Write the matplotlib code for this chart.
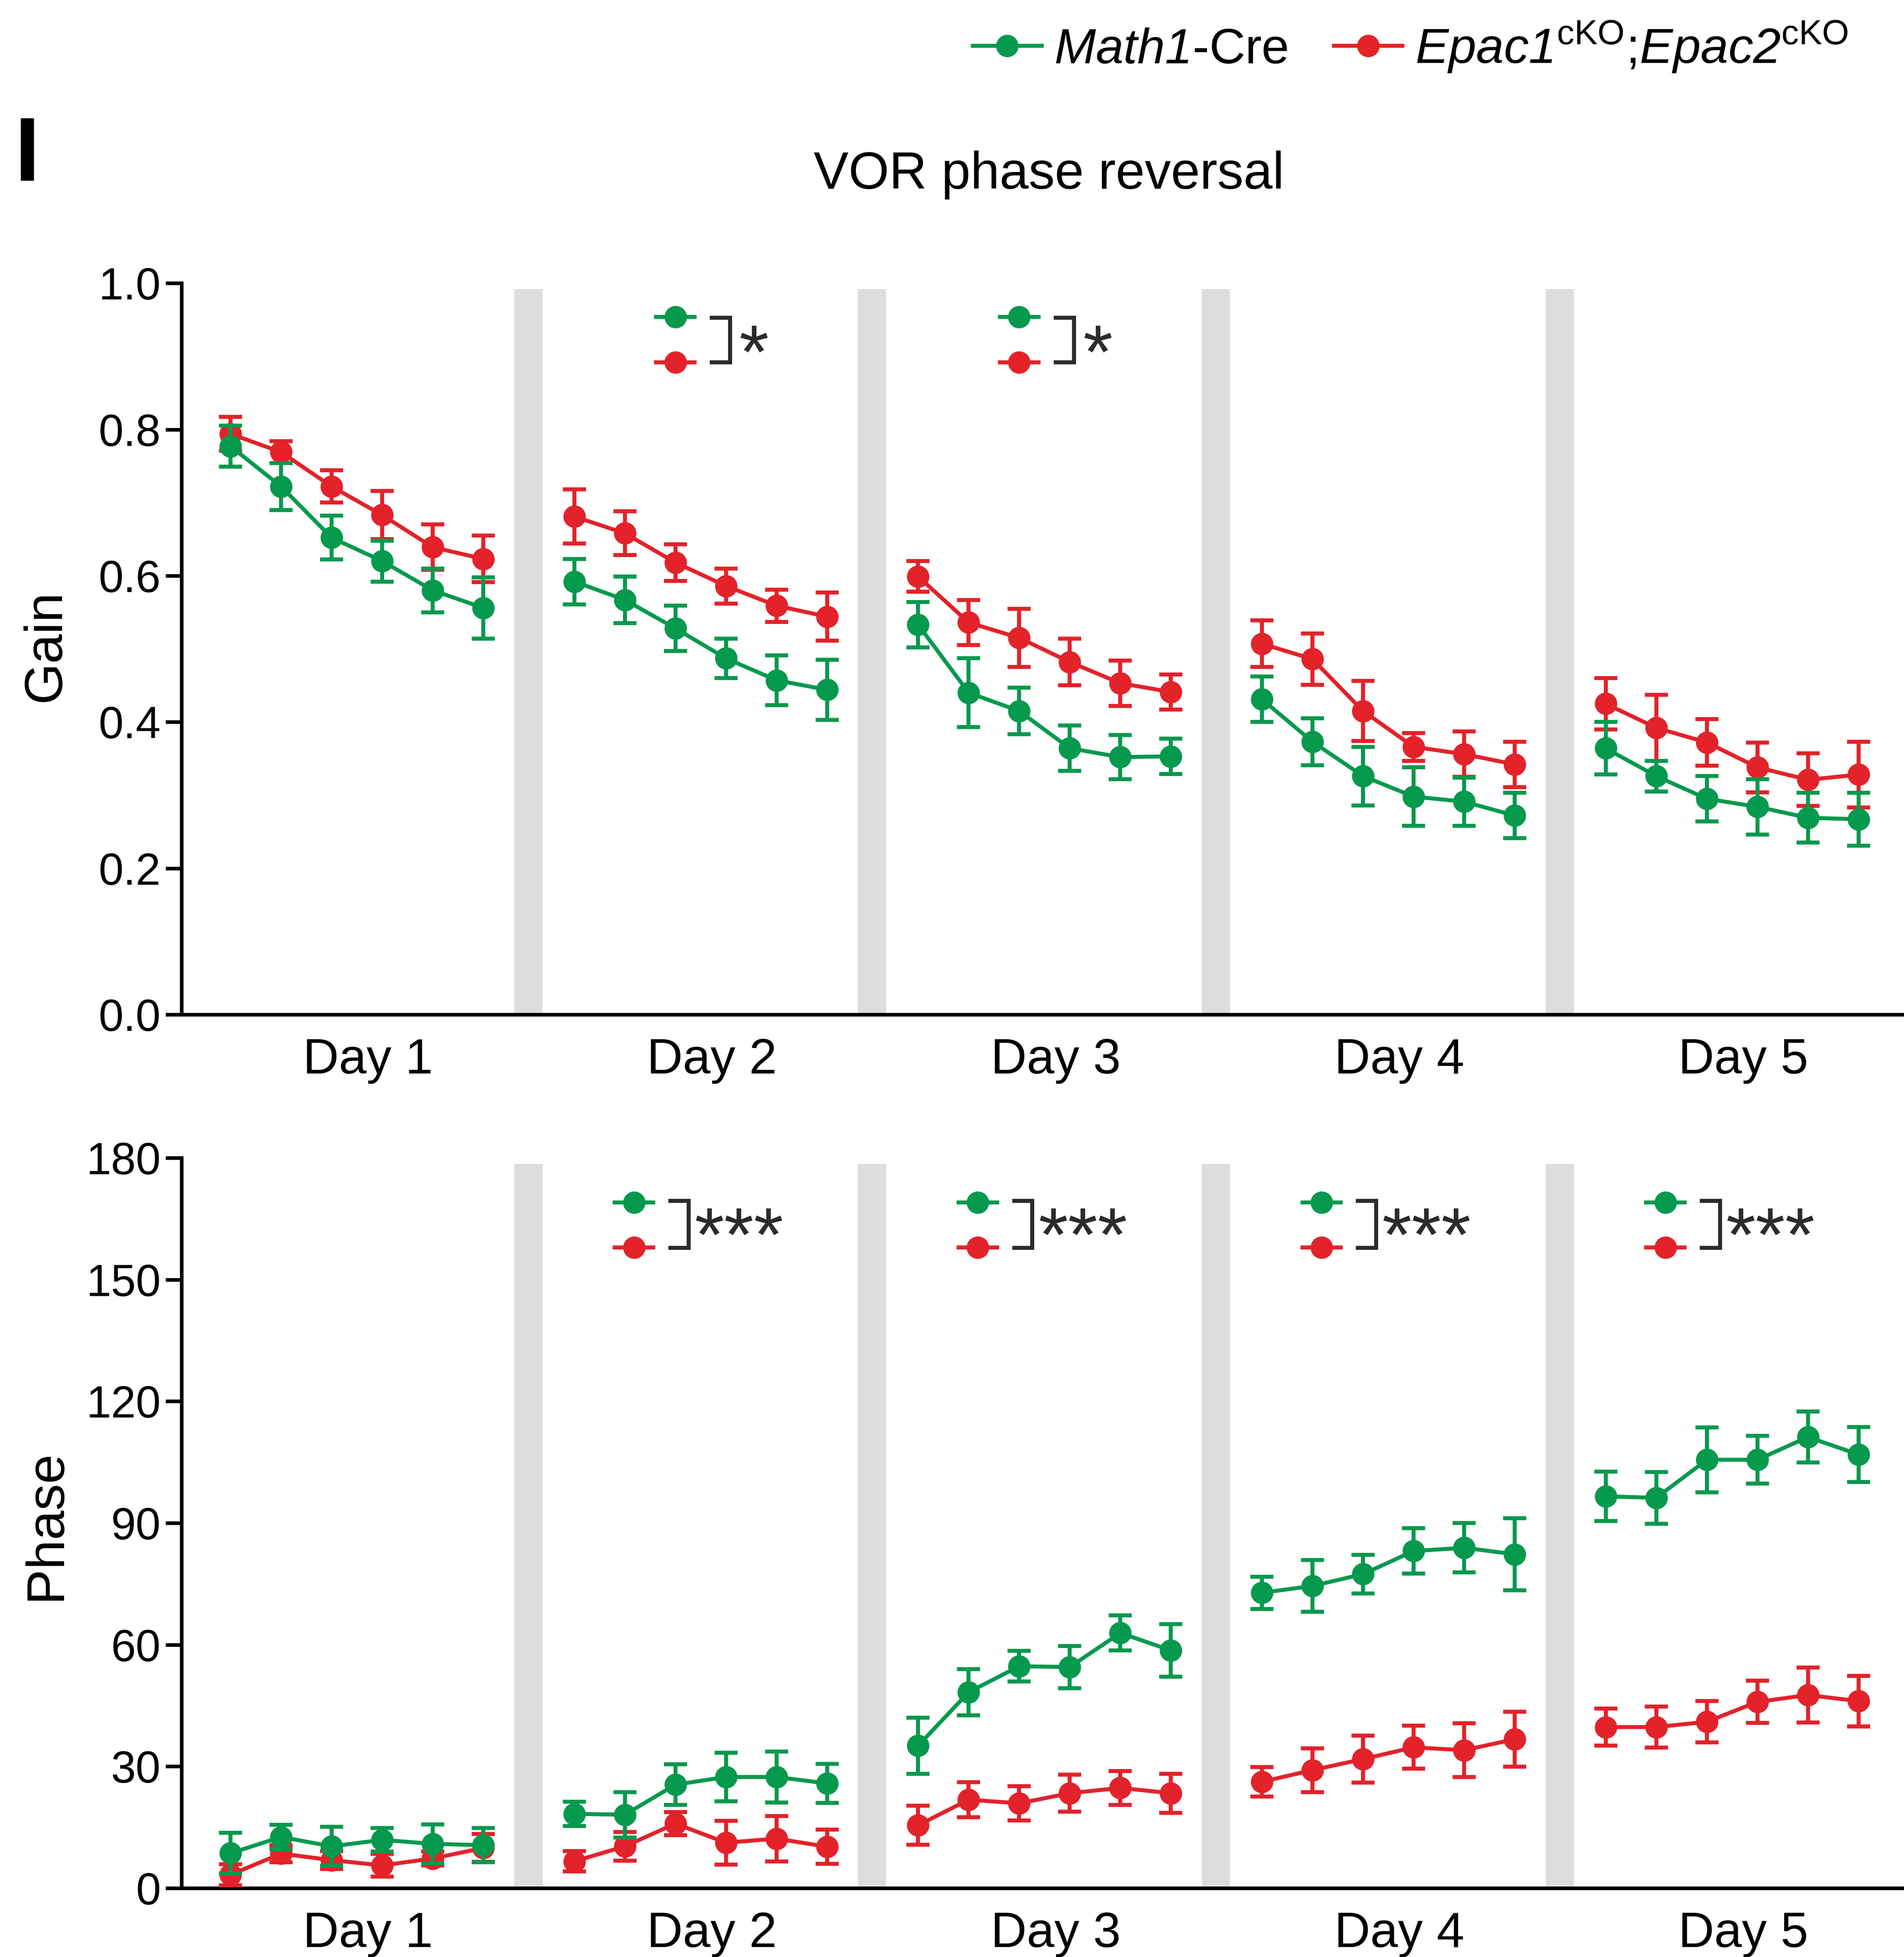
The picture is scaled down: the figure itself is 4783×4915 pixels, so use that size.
import matplotlib
matplotlib.use("Agg")
import matplotlib.pyplot as plt
from matplotlib.lines import Line2D
import numpy as np

plt.rcParams['font.family'] = ['Liberation Sans', 'DejaVu Sans']
plt.rcParams['mathtext.fontset'] = 'custom'
plt.rcParams['mathtext.rm'] = 'Liberation Sans'
plt.rcParams['mathtext.it'] = 'Liberation Sans:italic'
# use the "bf" slot for a fully italic face (digits included)
plt.rcParams['mathtext.bf'] = 'Liberation Sans:italic'

# ---------------- data ----------------
days = ["Day 1", "Day 2", "Day 3", "Day 4", "Day 5"]
n_per_day = 6

gain_ctrl = [0.777, 0.722, 0.652, 0.620, 0.580, 0.556,
             0.592, 0.567, 0.528, 0.487, 0.457, 0.444,
             0.533, 0.440, 0.415, 0.364, 0.352, 0.353,
             0.431, 0.373, 0.326, 0.298, 0.291, 0.272,
             0.364, 0.326, 0.295, 0.284, 0.269, 0.267]
gain_ctrl_err = [0.028, 0.032, 0.030, 0.028, 0.030, 0.042,
                 0.031, 0.032, 0.031, 0.027, 0.034, 0.041,
                 0.031, 0.047, 0.032, 0.031, 0.030, 0.024,
                 0.031, 0.032, 0.040, 0.040, 0.033, 0.031,
                 0.036, 0.021, 0.031, 0.038, 0.034, 0.036]
gain_ko = [0.794, 0.769, 0.722, 0.683, 0.639, 0.623,
           0.681, 0.658, 0.618, 0.586, 0.559, 0.544,
           0.599, 0.536, 0.515, 0.482, 0.453, 0.441,
           0.507, 0.486, 0.415, 0.366, 0.356, 0.342,
           0.425, 0.392, 0.372, 0.338, 0.321, 0.328]
gain_ko_err = [0.023, 0.015, 0.022, 0.033, 0.031, 0.032,
               0.037, 0.030, 0.025, 0.024, 0.022, 0.033,
               0.021, 0.031, 0.040, 0.032, 0.031, 0.024,
               0.032, 0.035, 0.041, 0.019, 0.031, 0.031,
               0.035, 0.045, 0.032, 0.034, 0.036, 0.045]

phase_ctrl = [8.6, 12.6, 10.3, 11.9, 10.9, 10.6,
              18.3, 18.1, 25.5, 27.4, 27.4, 25.8,
              35.1, 48.3, 54.7, 54.5, 62.9, 58.6,
              72.8, 74.5, 77.4, 83.1, 83.9, 82.3,
              96.6, 96.2, 105.6, 105.6, 111.2, 106.9]
phase_ctrl_err = [5.0, 3.0, 4.8, 2.9, 4.8, 4.2,
                  3.0, 5.6, 5.0, 6.0, 6.3, 4.8,
                  6.9, 5.7, 3.8, 5.2, 4.3, 6.5,
                  4.0, 6.4, 4.8, 5.6, 6.1, 8.9,
                  6.1, 6.4, 8.0, 5.9, 6.3, 6.8]
phase_ko = [3.3, 8.5, 6.9, 5.6, 7.3, 9.9,
            6.6, 10.3, 15.9, 11.2, 12.2, 10.2,
            15.5, 21.8, 20.9, 23.4, 24.7, 23.4,
            26.2, 29.1, 31.8, 34.7, 34.0, 36.7,
            39.7, 39.7, 41.0, 45.9, 47.6, 46.1]
phase_ko_err = [2.6, 2.1, 2.2, 2.8, 1.7, 3.4,
                2.5, 3.5, 2.8, 5.4, 5.6, 4.2,
                4.8, 4.3, 4.2, 4.6, 4.2, 4.8,
                3.6, 5.4, 5.8, 5.3, 6.6, 6.8,
                4.6, 5.1, 5.1, 5.2, 6.8, 6.2]

gain_sig_days = [1, 2]          # day indices with significance marks
gain_sig_text = ["*", "*"]
phase_sig_days = [1, 2, 3, 4]
phase_sig_text = ["***", "***", "***", "***"]

# ---------------- style ----------------
GREEN = "#05994E"
RED = "#E3222A"
BAND = "#DCDDDD"
DARK = "#2B2B2B"
DAY_STEP = 6.8
MS = 12.5

fig = plt.figure(figsize=(4783 / 300, 4915 / 300), dpi=300)
fig.patch.set_facecolor("white")

ax1 = fig.add_axes([0.0953, 0.4816, 0.9047, 0.8553 - 0.4816])
ax2 = fig.add_axes([0.0953, 0.0352, 0.9047, 0.4083 - 0.0352])

def xpos(d):
    return d * DAY_STEP + np.arange(n_per_day)

def draw_panel(ax, ctrl, ctrl_err, ko, ko_err, ymax, yticks, fmt,
               sig_days, sig_text, sig_cfg):
    ax.set_xlim(-0.97, 33.1)
    ax.set_ylim(0, ymax)
    # gray separators
    for d in range(1, len(days)):
        c = d * DAY_STEP - 0.91
        ax.axvspan(c - 0.28, c + 0.28, ymin=0, ymax=0.992,
                   color=BAND, lw=0, zorder=0)
    ctrl = np.asarray(ctrl); ko = np.asarray(ko)
    for d in range(len(days)):
        sl = slice(d * n_per_day, (d + 1) * n_per_day)
        x = xpos(d)
        for y, e, col, z in [(ko, ko_err, RED, 3), (ctrl, ctrl_err, GREEN, 4)]:
            ax.errorbar(x, y[sl], yerr=np.asarray(e)[sl], color=col, lw=2.4,
                        marker='o', ms=MS, capsize=7, capthick=2.4,
                        elinewidth=2.4, zorder=z)
    # axes styling
    for s in ["top", "right"]:
        ax.spines[s].set_visible(False)
    ax.spines["left"].set_linewidth(2.2)
    ax.spines["bottom"].set_linewidth(2.2)
    ax.spines["left"].set_bounds(0, ymax)
    ax.set_yticks(yticks)
    ax.set_yticklabels([fmt(v) for v in yticks], fontsize=27)
    ax.tick_params(axis='y', length=9.5, width=2.2, pad=3)
    ax.set_xticks([d * DAY_STEP + 2.72 for d in range(len(days))])
    ax.set_xticklabels(days, fontsize=30)
    ax.tick_params(axis='x', length=0, pad=14)
    ax.set_facecolor("none")
    # significance marks
    off, yg, yr, ybr_top, ybr_bot, txt_dx, txt_y, tfs = sig_cfg
    for d, t in zip(sig_days, sig_text):
        x0 = d * DAY_STEP + off
        for yy, col in [(yg, GREEN), (yr, RED)]:
            ax.plot([x0 - 0.42, x0 + 0.42], [yy, yy], color=col, lw=2.4,
                    solid_capstyle='butt')
            ax.plot([x0], [yy], 'o', color=col, ms=MS)
        bx = x0 + 1.08
        ax.plot([bx - 0.36, bx, bx, bx - 0.36],
                [ybr_top, ybr_top, ybr_bot, ybr_bot], color=DARK, lw=2.4,
                solid_joinstyle='miter')
        ax.text(bx + txt_dx, txt_y, t, fontsize=tfs, color=DARK,
                ha='left', va='center')

draw_panel(ax1, gain_ctrl, gain_ctrl_err, gain_ko, gain_ko_err, 1.0,
           [0.0, 0.2, 0.4, 0.6, 0.8, 1.0], lambda v: f"{v:.1f}",
           gain_sig_days, gain_sig_text,
           (2.0, 0.954, 0.892, 0.953, 0.892, 0.18, 0.897, 46))
draw_panel(ax2, phase_ctrl, phase_ctrl_err, phase_ko, phase_ko_err, 180,
           [0, 30, 60, 90, 120, 150, 180], lambda v: f"{v:d}",
           phase_sig_days, phase_sig_text,
           (1.18, 169.0, 157.9, 169.4, 157.8, 0.12, 159.5, 46))

fig.text(0.0243, 0.670, "Gain", rotation=90, fontsize=32,
         ha='center', va='center')
fig.text(0.0243, 0.2208, "Phase", rotation=90, fontsize=32,
         ha='center', va='center')
fig.text(0.5510, 0.9105, "VOR phase reversal", fontsize=31.5,
         ha='center', va='center')
fig.text(0.0144, 0.9076, "I", fontsize=55, fontweight='bold',
         ha='center', va='baseline')

handles = [Line2D([], [], color=GREEN, marker='o', lw=2.4, ms=MS),
           Line2D([], [], color=RED, marker='o', lw=2.4, ms=MS)]
labels = [r"$\mathbf{Math1}$-Cre",
          r"$\mathbf{Epac1}^{\rm{cKO}}$;$\mathbf{Epac2}^{\rm{cKO}}$"]
fig.legend(handles, labels, loc='center left', bbox_to_anchor=(0.511, 0.976),
           ncol=2, frameon=False, fontsize=30, handlelength=1.38,
           handletextpad=0.25, columnspacing=0.93, borderpad=0,
           borderaxespad=0)

fig.savefig("out.png", dpi=300, facecolor="white")
